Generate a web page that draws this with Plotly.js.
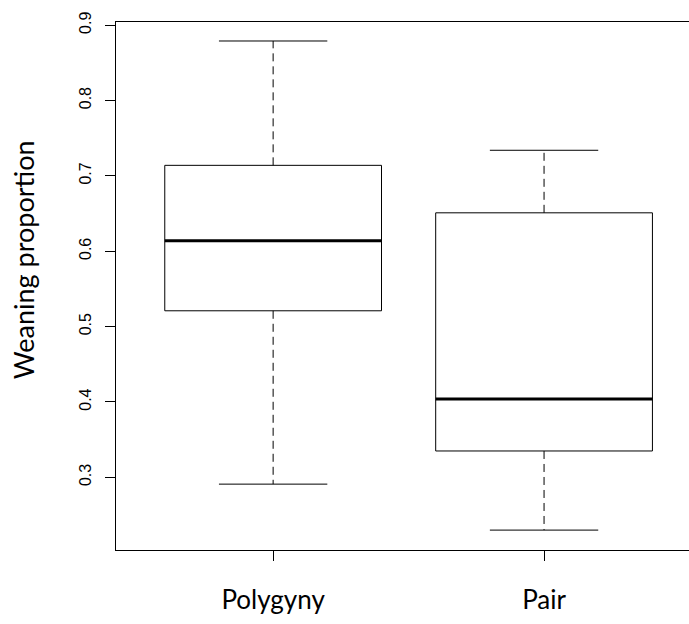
<!DOCTYPE html>
<html>
<head>
<meta charset="utf-8">
<script src="https://cdn.plot.ly/plotly-3.0.1.min.js"></script>
<style>
  html, body { margin: 0; padding: 0; background: #ffffff; }
  #chart { width: 689px; height: 624px; }
</style>
</head>
<body>
<div id="chart"></div>
<script>
// ---- data ----
const categories   = ["Polygyny", "Pair"];
const upperWhisker = [0.879, 0.734];
const q3           = [0.714, 0.651];
const median       = [0.614, 0.404];
const q1           = [0.521, 0.335];
const lowerWhisker = [0.291, 0.230];
const yTickVals    = [0.3, 0.4, 0.5, 0.6, 0.7, 0.8, 0.9];
const yTickText    = ["0.3", "0.4", "0.5", "0.6", "0.7", "0.8", "0.9"];
const yTitle       = "Weaning proportion";

// ---- style ----
const BOX_HALF = 0.4;
const CAP_HALF = 0.2;
const INK = "#000000";

const traces = [];
categories.forEach((cat, i) => {
  const xc = i + 1;
  traces.push({
    type: "scatter", mode: "lines", hoverinfo: "skip", showlegend: false,
    x: [xc, xc, null, xc, xc],
    y: [q3[i], upperWhisker[i], null, q1[i], lowerWhisker[i]],
    line: { color: INK, width: 1, dash: "8px,5px" }
  });
  traces.push({
    type: "scatter", mode: "lines", hoverinfo: "skip", showlegend: false,
    x: [xc - CAP_HALF, xc + CAP_HALF, null, xc - CAP_HALF, xc + CAP_HALF],
    y: [upperWhisker[i], upperWhisker[i], null, lowerWhisker[i], lowerWhisker[i]],
    line: { color: INK, width: 1 }
  });
  traces.push({
    type: "scatter", mode: "lines", hoverinfo: "skip", showlegend: false,
    x: [xc - BOX_HALF, xc + BOX_HALF, xc + BOX_HALF, xc - BOX_HALF, xc - BOX_HALF],
    y: [q1[i], q1[i], q3[i], q3[i], q1[i]],
    line: { color: INK, width: 1 }
  });
  traces.push({
    type: "scatter", mode: "lines", hoverinfo: "skip", showlegend: false,
    x: [xc - BOX_HALF, xc + BOX_HALF],
    y: [median[i], median[i]],
    line: { color: INK, width: 3 }
  });
});

const layout = {
  width: 689, height: 624,
  margin: { l: 116, r: 0, t: 22, b: 74 },
  paper_bgcolor: "#ffffff", plot_bgcolor: "#ffffff",
  showlegend: false,
  xaxis: {
    range: [0.42, 2.535],
    tickvals: categories.map((c, i) => i + 1),
    ticktext: categories,
    showgrid: false, zeroline: false,
    showline: true, mirror: true, linecolor: INK, linewidth: 1,
    ticks: "outside", ticklen: 10, tickcolor: INK, tickwidth: 1,
    ticklabelstandoff: 17,
    tickfont: { family: "Lato, 'Open Sans', sans-serif", size: 26, color: INK }
  },
  yaxis: {
    range: [0.2036, 0.9042],
    tickvals: yTickVals, ticktext: yTickText,
    tickangle: -90,
    showgrid: false, zeroline: false,
    showline: true, linecolor: INK, linewidth: 1,
    ticks: "outside", ticklen: 10, tickcolor: INK, tickwidth: 1,
    ticklabelstandoff: 8,
    tickfont: { family: "'Liberation Sans', Arial, sans-serif", size: 16, color: INK }
  },
  annotations: [{
    text: yTitle, showarrow: false, textangle: -90,
    xref: "paper", yref: "paper", x: 0, y: 0.549,
    xanchor: "center", yanchor: "middle", xshift: -93,
    font: { family: "Lato, 'Open Sans', sans-serif", size: 27, color: INK }
  }]
};

Plotly.newPlot("chart", traces, layout, { staticPlot: true, displayModeBar: false });
</script>
</body>
</html>
